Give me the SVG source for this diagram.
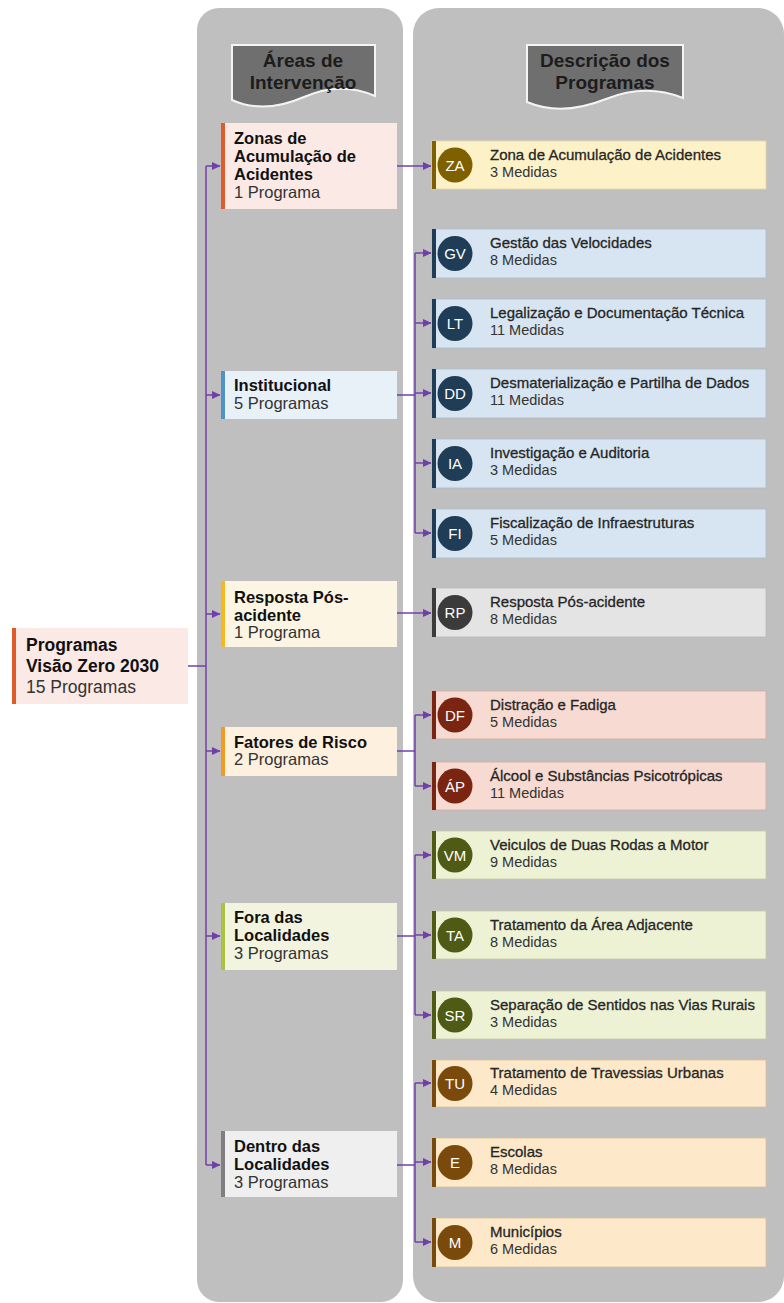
<svg xmlns="http://www.w3.org/2000/svg" width="784" height="1303" viewBox="0 0 784 1303">
  <style>
    text { font-family: "Liberation Sans", Arial, sans-serif; }
    .panel { fill: #bfbfbf; }
    .banner { fill: #6f6f6f; stroke: #f4f4f4; stroke-width: 2; }
    .bt { font-size: 19px; font-weight: bold; fill: #1c1c1c; text-anchor: middle; }
    .h { font-size: 16.5px; font-weight: bold; fill: #111; }
    .s { font-size: 16.5px; fill: #333; }
    .rh { font-size: 17.5px; font-weight: bold; fill: #111; }
    .rs { font-size: 17.5px; fill: #333; }
    .pt { font-size: 15px; fill: #262626; stroke: #262626; stroke-width: 0.3; }
    .ps { font-size: 14.5px; fill: #333; }
    .ini { font-size: 15px; fill: #fff; text-anchor: middle; }
    .edge { fill: none; stroke: #7040a8; stroke-width: 1.5; }
  </style>
  <defs>
    <marker id="arr" markerWidth="9" markerHeight="9" refX="8" refY="4.5" orient="auto" markerUnits="userSpaceOnUse">
      <path d="M0,0.5 L8.5,4.5 L0,8.5 Z" fill="#7040a8"/>
    </marker>
  </defs>

  <rect width="784" height="1303" fill="#ffffff"/>

  <!-- column panels -->
  <rect class="panel" x="197" y="8" width="206" height="1294" rx="22"/>
  <rect class="panel" x="413" y="8" width="371" height="1294" rx="26"/>

  <!-- column banners -->
  <g id="banner-areas">
    <path class="banner" d="M232,45 H375 V96 C352,86 327,87 304,97 S256,111 232,100 Z"/>
    <text class="bt" x="303" y="67">Áreas de</text>
    <text class="bt" x="303" y="89">Intervenção</text>
  </g>
  <g id="banner-programas">
    <path class="banner" d="M527,45 H683 V98 C658,88 631,89 606,99 S553,113 527,102 Z"/>
    <text class="bt" x="605" y="67">Descrição dos</text>
    <text class="bt" x="605" y="89">Programas</text>
  </g>

  <!-- connectors -->
  <g id="connectors">
    <path class="edge" d="M188,666 H206"/>
    <path class="edge" d="M206,166 V1165"/>
    <path class="edge" d="M206,166 H220" marker-end="url(#arr)"/>
    <path class="edge" d="M206,395 H220" marker-end="url(#arr)"/>
    <path class="edge" d="M206,614 H220" marker-end="url(#arr)"/>
    <path class="edge" d="M206,751 H220" marker-end="url(#arr)"/>
    <path class="edge" d="M206,936 H220" marker-end="url(#arr)"/>
    <path class="edge" d="M206,1165 H220" marker-end="url(#arr)"/>

    <path class="edge" d="M397,166 H431" marker-end="url(#arr)"/>

    <path class="edge" d="M397,395 H415"/>
    <path class="edge" d="M415,253 V533"/>
    <path class="edge" d="M415,253 H431" marker-end="url(#arr)"/>
    <path class="edge" d="M415,323 H431" marker-end="url(#arr)"/>
    <path class="edge" d="M415,393 H431" marker-end="url(#arr)"/>
    <path class="edge" d="M415,463 H431" marker-end="url(#arr)"/>
    <path class="edge" d="M415,533 H431" marker-end="url(#arr)"/>

    <path class="edge" d="M397,613 H431" marker-end="url(#arr)"/>

    <path class="edge" d="M397,751 H415"/>
    <path class="edge" d="M415,715 V786"/>
    <path class="edge" d="M415,715 H431" marker-end="url(#arr)"/>
    <path class="edge" d="M415,786 H431" marker-end="url(#arr)"/>

    <path class="edge" d="M397,936 H415"/>
    <path class="edge" d="M415,855 V1015"/>
    <path class="edge" d="M415,855 H431" marker-end="url(#arr)"/>
    <path class="edge" d="M415,935 H431" marker-end="url(#arr)"/>
    <path class="edge" d="M415,1015 H431" marker-end="url(#arr)"/>

    <path class="edge" d="M397,1165 H415"/>
    <path class="edge" d="M415,1083 V1242"/>
    <path class="edge" d="M415,1083 H431" marker-end="url(#arr)"/>
    <path class="edge" d="M415,1162 H431" marker-end="url(#arr)"/>
    <path class="edge" d="M415,1242 H431" marker-end="url(#arr)"/>
  </g>

  <!-- root -->
  <g id="root">
    <rect x="12" y="628" width="176" height="76" fill="#fbe9e5"/>
    <rect x="12" y="628" width="4" height="76" fill="#e05a2b"/>
    <text class="rh" x="26" y="651">Programas</text>
    <text class="rh" x="26" y="672">Visão Zero 2030</text>
    <text class="rs" x="26" y="693">15 Programas</text>
  </g>

  <!-- intervention areas -->
  <g id="area-za">
    <rect x="221" y="123" width="176" height="86" fill="#fbe9e5"/>
    <rect x="221" y="123" width="4" height="86" fill="#e05a2b"/>
    <text class="h" x="234" y="144">Zonas de</text>
    <text class="h" x="234" y="162">Acumulação de</text>
    <text class="h" x="234" y="180">Acidentes</text>
    <text class="s" x="234" y="198">1 Programa</text>
  </g>
  <g id="area-institucional">
    <rect x="221" y="371" width="176" height="48" fill="#e8f0f8"/>
    <rect x="221" y="371" width="4" height="48" fill="#4f93c4"/>
    <text class="h" x="234" y="391">Institucional</text>
    <text class="s" x="234" y="409">5 Programas</text>
  </g>
  <g id="area-resposta">
    <rect x="221" y="581" width="176" height="66" fill="#fdf5e4"/>
    <rect x="221" y="581" width="4" height="66" fill="#f6b81c"/>
    <text class="h" x="234" y="603">Resposta Pós-</text>
    <text class="h" x="234" y="620.5">acidente</text>
    <text class="s" x="234" y="638">1 Programa</text>
  </g>
  <g id="area-fatores">
    <rect x="221" y="727" width="176" height="49" fill="#fdf0df"/>
    <rect x="221" y="727" width="4" height="49" fill="#f39a22"/>
    <text class="h" x="234" y="748">Fatores de Risco</text>
    <text class="s" x="234" y="765">2 Programas</text>
  </g>
  <g id="area-fora">
    <rect x="221" y="903" width="176" height="67" fill="#f2f4df"/>
    <rect x="221" y="903" width="4" height="67" fill="#a9c23f"/>
    <text class="h" x="234" y="923">Fora das</text>
    <text class="h" x="234" y="941">Localidades</text>
    <text class="s" x="234" y="959">3 Programas</text>
  </g>
  <g id="area-dentro">
    <rect x="221" y="1131" width="176" height="66" fill="#efefef"/>
    <rect x="221" y="1131" width="4" height="66" fill="#7f7f7f"/>
    <text class="h" x="234" y="1152">Dentro das</text>
    <text class="h" x="234" y="1170">Localidades</text>
    <text class="s" x="234" y="1188">3 Programas</text>
  </g>

  <!-- programmes -->
  <g id="prog-za">
    <rect x="432" y="141" width="334" height="48" fill="#fdf1c8" stroke="#e6d7a8" stroke-width="0.8"/>
    <rect x="432" y="141" width="4" height="48" fill="#7f6000"/>
    <circle cx="455" cy="165" r="17.5" fill="#7f6000"/>
    <text class="ini" x="455" y="170.5">ZA</text>
    <text class="pt" x="490" y="160">Zona de Acumulação de Acidentes</text>
    <text class="ps" x="490" y="177">3 Medidas</text>
  </g>

  <g id="prog-gv">
    <rect x="432" y="229" width="334" height="49" fill="#d6e5f1" stroke="#aabccb" stroke-width="0.8"/>
    <rect x="432" y="229" width="4" height="49" fill="#1f3d57"/>
    <circle cx="455" cy="253.5" r="17.5" fill="#1f3d57"/>
    <text class="ini" x="455" y="259">GV</text>
    <text class="pt" x="490" y="248">Gestão das Velocidades</text>
    <text class="ps" x="490" y="265">8 Medidas</text>
  </g>
  <g id="prog-lt">
    <rect x="432" y="299" width="334" height="49" fill="#d6e5f1" stroke="#aabccb" stroke-width="0.8"/>
    <rect x="432" y="299" width="4" height="49" fill="#1f3d57"/>
    <circle cx="455" cy="323.5" r="17.5" fill="#1f3d57"/>
    <text class="ini" x="455" y="329">LT</text>
    <text class="pt" x="490" y="318">Legalização e Documentação Técnica</text>
    <text class="ps" x="490" y="335">11 Medidas</text>
  </g>
  <g id="prog-dd">
    <rect x="432" y="369" width="334" height="49" fill="#d6e5f1" stroke="#aabccb" stroke-width="0.8"/>
    <rect x="432" y="369" width="4" height="49" fill="#1f3d57"/>
    <circle cx="455" cy="393.5" r="17.5" fill="#1f3d57"/>
    <text class="ini" x="455" y="399">DD</text>
    <text class="pt" x="490" y="388">Desmaterialização e Partilha de Dados</text>
    <text class="ps" x="490" y="405">11 Medidas</text>
  </g>
  <g id="prog-ia">
    <rect x="432" y="439" width="334" height="49" fill="#d6e5f1" stroke="#aabccb" stroke-width="0.8"/>
    <rect x="432" y="439" width="4" height="49" fill="#1f3d57"/>
    <circle cx="455" cy="463.5" r="17.5" fill="#1f3d57"/>
    <text class="ini" x="455" y="469">IA</text>
    <text class="pt" x="490" y="458">Investigação e Auditoria</text>
    <text class="ps" x="490" y="475">3 Medidas</text>
  </g>
  <g id="prog-fi">
    <rect x="432" y="509" width="334" height="49" fill="#d6e5f1" stroke="#aabccb" stroke-width="0.8"/>
    <rect x="432" y="509" width="4" height="49" fill="#1f3d57"/>
    <circle cx="455" cy="533.5" r="17.5" fill="#1f3d57"/>
    <text class="ini" x="455" y="539">FI</text>
    <text class="pt" x="490" y="528">Fiscalização de Infraestruturas</text>
    <text class="ps" x="490" y="545">5 Medidas</text>
  </g>

  <g id="prog-rp">
    <rect x="432" y="588" width="334" height="49" fill="#e4e4e4" stroke="#b8b8b8" stroke-width="0.8"/>
    <rect x="432" y="588" width="4" height="49" fill="#3b3b3b"/>
    <circle cx="455" cy="612.5" r="17.5" fill="#3b3b3b"/>
    <text class="ini" x="455" y="618">RP</text>
    <text class="pt" x="490" y="607">Resposta Pós-acidente</text>
    <text class="ps" x="490" y="624">8 Medidas</text>
  </g>

  <g id="prog-df">
    <rect x="432" y="691" width="334" height="48" fill="#f7dad1" stroke="#d2aa9f" stroke-width="0.8"/>
    <rect x="432" y="691" width="4" height="48" fill="#7a2511"/>
    <circle cx="455" cy="715" r="17.5" fill="#7a2511"/>
    <text class="ini" x="455" y="720.5">DF</text>
    <text class="pt" x="490" y="710">Distração e Fadiga</text>
    <text class="ps" x="490" y="727">5 Medidas</text>
  </g>
  <g id="prog-ap">
    <rect x="432" y="762" width="334" height="48" fill="#f7dad1" stroke="#d2aa9f" stroke-width="0.8"/>
    <rect x="432" y="762" width="4" height="48" fill="#7a2511"/>
    <circle cx="455" cy="786" r="17.5" fill="#7a2511"/>
    <text class="ini" x="455" y="791.5">ÁP</text>
    <text class="pt" x="490" y="781">Álcool e Substâncias Psicotrópicas</text>
    <text class="ps" x="490" y="798">11 Medidas</text>
  </g>

  <g id="prog-vm">
    <rect x="432" y="831" width="334" height="48" fill="#eef2d5" stroke="#c5caa6" stroke-width="0.8"/>
    <rect x="432" y="831" width="4" height="48" fill="#4f5a15"/>
    <circle cx="455" cy="855" r="17.5" fill="#4f5a15"/>
    <text class="ini" x="455" y="860.5">VM</text>
    <text class="pt" x="490" y="850">Veiculos de Duas Rodas a Motor</text>
    <text class="ps" x="490" y="867">9 Medidas</text>
  </g>
  <g id="prog-ta">
    <rect x="432" y="911" width="334" height="48" fill="#eef2d5" stroke="#c5caa6" stroke-width="0.8"/>
    <rect x="432" y="911" width="4" height="48" fill="#4f5a15"/>
    <circle cx="455" cy="935" r="17.5" fill="#4f5a15"/>
    <text class="ini" x="455" y="940.5">TA</text>
    <text class="pt" x="490" y="930">Tratamento da Área Adjacente</text>
    <text class="ps" x="490" y="947">8 Medidas</text>
  </g>
  <g id="prog-sr">
    <rect x="432" y="991" width="334" height="48" fill="#eef2d5" stroke="#c5caa6" stroke-width="0.8"/>
    <rect x="432" y="991" width="4" height="48" fill="#4f5a15"/>
    <circle cx="455" cy="1015" r="17.5" fill="#4f5a15"/>
    <text class="ini" x="455" y="1020.5">SR</text>
    <text class="pt" x="490" y="1010">Separação de Sentidos nas Vias Rurais</text>
    <text class="ps" x="490" y="1027">3 Medidas</text>
  </g>

  <g id="prog-tu">
    <rect x="432" y="1060" width="334" height="47" fill="#fde8c9" stroke="#d8c09c" stroke-width="0.8"/>
    <rect x="432" y="1060" width="4" height="47" fill="#7a4a0c"/>
    <circle cx="455" cy="1083.5" r="17.5" fill="#7a4a0c"/>
    <text class="ini" x="455" y="1089">TU</text>
    <text class="pt" x="490" y="1078">Tratamento de Travessias Urbanas</text>
    <text class="ps" x="490" y="1095">4 Medidas</text>
  </g>
  <g id="prog-e">
    <rect x="432" y="1138" width="334" height="49" fill="#fde8c9" stroke="#d8c09c" stroke-width="0.8"/>
    <rect x="432" y="1138" width="4" height="49" fill="#7a4a0c"/>
    <circle cx="455" cy="1162.5" r="17.5" fill="#7a4a0c"/>
    <text class="ini" x="455" y="1168">E</text>
    <text class="pt" x="490" y="1157">Escolas</text>
    <text class="ps" x="490" y="1174">8 Medidas</text>
  </g>
  <g id="prog-m">
    <rect x="432" y="1218" width="334" height="49" fill="#fde8c9" stroke="#d8c09c" stroke-width="0.8"/>
    <rect x="432" y="1218" width="4" height="49" fill="#7a4a0c"/>
    <circle cx="455" cy="1242.5" r="17.5" fill="#7a4a0c"/>
    <text class="ini" x="455" y="1248">M</text>
    <text class="pt" x="490" y="1237">Municípios</text>
    <text class="ps" x="490" y="1254">6 Medidas</text>
  </g>
</svg>
